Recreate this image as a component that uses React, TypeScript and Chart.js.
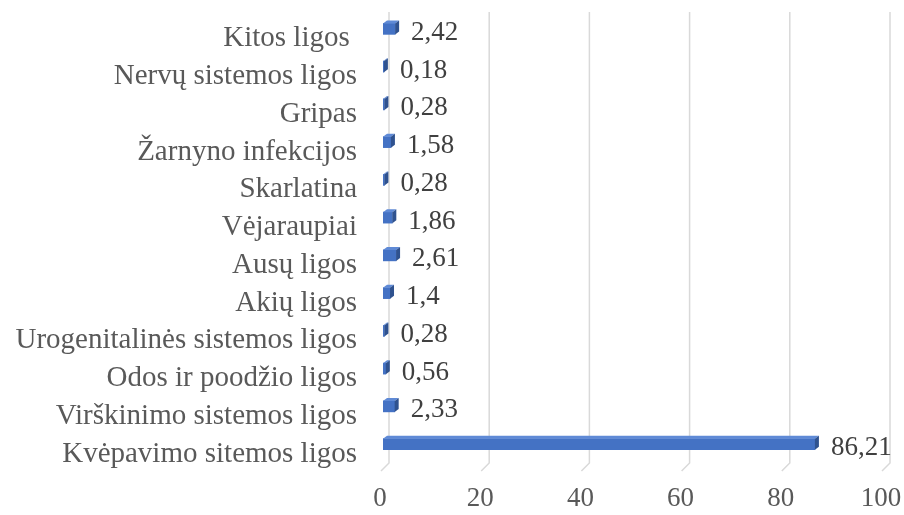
import React, { useEffect, useRef } from 'react';
import { Chart, registerables } from 'chart.js';

Chart.register(...registerables);

const categories = [
  'Kitos ligos ',
  'Nervų sistemos ligos',
  'Gripas',
  'Žarnyno infekcijos',
  'Skarlatina',
  'Vėjaraupiai',
  'Ausų ligos',
  'Akių ligos',
  'Urogenitalinės sistemos ligos',
  'Odos ir poodžio ligos',
  'Virškinimo sistemos ligos',
  'Kvėpavimo sitemos ligos',
];
const values = [2.42, 0.18, 0.28, 1.58, 0.28, 1.86, 2.61, 1.4, 0.28, 0.56, 2.33, 86.21];
const xTicks = [0, 20, 40, 60, 80, 100];

const FONT = '"Liberation Serif", "Times New Roman", serif';
const FRONT = '#4472C4';
const TOP = '#5F8AD6';
const SIDE = '#2F528F';

const fmt = (v: number) => String(v).replace('.', ',');

const gridPlugin = {
  id: 'grid3d',
  beforeDatasetsDraw(chart: any) {
    const { ctx, chartArea, scales } = chart;
    const xs = scales.x;
    ctx.save();
    ctx.strokeStyle = '#D9D9D9';
    ctx.lineWidth = 1.5;
    xTicks.forEach((t) => {
      const px = xs.getPixelForValue(t);
      ctx.beginPath();
      ctx.moveTo(px + 6, chartArea.top + 2);
      ctx.lineTo(px + 6, chartArea.bottom);
      ctx.lineTo(px - 2, chartArea.bottom + 8);
      ctx.stroke();
    });
    ctx.restore();
  },
};

const bar3dPlugin = {
  id: 'bar3d',
  afterDatasetsDraw(chart: any) {
    const { ctx } = chart;
    const meta = chart.getDatasetMeta(0);
    const dx = 4;
    const dy = -3;
    ctx.save();
    meta.data.forEach((el: any, i: number) => {
      const x0 = el.base;
      const x1 = el.x;
      const h = el.height;
      const y0 = el.y - h / 2;
      const y1 = el.y + h / 2;
      ctx.fillStyle = TOP;
      ctx.beginPath();
      ctx.moveTo(x0, y0);
      ctx.lineTo(x0 + dx, y0 + dy);
      ctx.lineTo(x1 + dx, y0 + dy);
      ctx.lineTo(x1, y0);
      ctx.closePath();
      ctx.fill();
      ctx.fillStyle = SIDE;
      ctx.beginPath();
      ctx.moveTo(x1, y0);
      ctx.lineTo(x1 + dx, y0 + dy);
      ctx.lineTo(x1 + dx, y1 + dy);
      ctx.lineTo(x1, y1);
      ctx.closePath();
      ctx.fill();
      ctx.fillStyle = '#404040';
      ctx.font = `27px ${FONT}`;
      ctx.textAlign = 'left';
      ctx.textBaseline = 'middle';
      ctx.fillText(fmt(values[i]), x1 + 16, el.y + 4);
    });
    ctx.restore();
  },
};

export default function App() {
  const ref = useRef<HTMLCanvasElement>(null);
  useEffect(() => {
    if (!ref.current) return;
    const chart = new Chart(ref.current, {
      type: 'bar',
      data: {
        labels: categories,
        datasets: [
          {
            data: values,
            backgroundColor: FRONT,
            borderWidth: 0,
            barThickness: 11,
          },
        ],
      },
      options: {
        indexAxis: 'y',
        animation: false,
        responsive: true,
        maintainAspectRatio: false,
        layout: { padding: { top: 10, right: 20, left: 0, bottom: 0 } },
        plugins: {
          legend: { display: false },
          tooltip: { enabled: false },
        },
        scales: {
          x: {
            min: 0,
            max: 100,
            afterBuildTicks: (s: any) => {
              s.ticks = xTicks.map((v) => ({ value: v }));
            },
            afterFit: (s: any) => {
              s.height = 52;
              s.paddingLeft = 0;
              s.paddingRight = 0;
            },
            grid: { display: false, drawTicks: false },
            border: { display: false },
            ticks: {
              color: '#595959',
              font: { family: FONT, size: 27 },
              padding: 20,
              labelOffset: -3,
              maxRotation: 0,
            },
          },
          y: {
            afterFit: (s: any) => {
              s.width = 383;
              s.paddingTop = 0;
              s.paddingBottom = 0;
            },
            grid: { display: false, drawTicks: false },
            border: { display: false },
            ticks: {
              color: '#595959',
              font: { family: FONT, size: 29 },
              padding: 26,
              labelOffset: 10,
              autoSkip: false,
            },
          },
        },
      },
      plugins: [gridPlugin, bar3dPlugin],
    });
    return () => chart.destroy();
  }, []);
  return (
    <div style={{ position: 'fixed', left: 0, top: 0, width: 904, height: 515, background: '#fff' }}>
      <canvas ref={ref} />
    </div>
  );
}
